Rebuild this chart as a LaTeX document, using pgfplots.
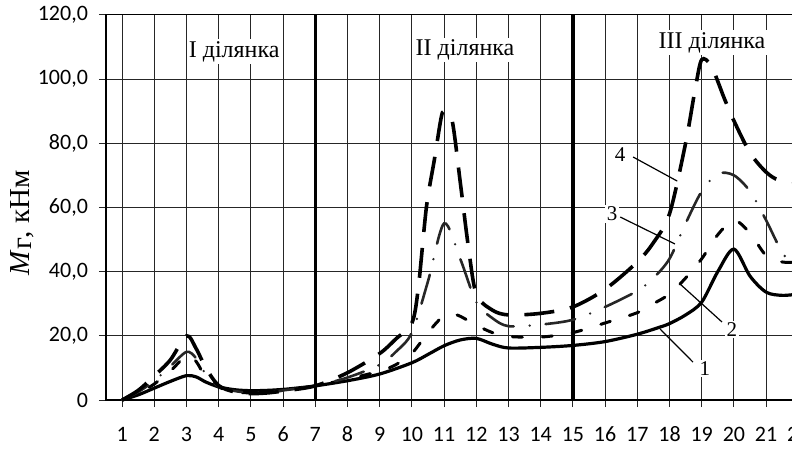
\documentclass[border=0pt]{standalone}
\usepackage{fontspec}
\setmainfont{Liberation Serif}
\newfontfamily\calibri{Carlito}
\usepackage{pgfplots}
\pgfplotsset{compat=1.18}
\begin{document}
\begin{tikzpicture}
\begin{axis}[
  at={(0,0)}, anchor=south west,
  x=16.1pt, y=1.605pt,
  xmin=0.5, xmax=22.5, ymin=0, ymax=120,
  xtick={1,2,...,22}, ytick={0,20,...,120},
  yticklabels={0,{20,0},{40,0},{60,0},{80,0},{100,0},{120,0}},
  grid=major, major grid style={black!85, line width=0.5pt},
  axis line style={black, line width=0.6pt},
  tick style={black!85, line width=0.5pt},
  tick align=outside, tick pos=left,
  major tick length=3.5pt,
  /pgf/number format/assume math mode=true,
  ticklabel style={font=\calibri\fontsize{11}{13}\selectfont},
  xticklabel style={yshift=-6pt, text height=7.5pt, text depth=0pt, anchor=north},
  yticklabel style={xshift=-2pt},
  ylabel={\textit{M}\raisebox{-0.15ex}{г}, кНм},
  ylabel style={at={(rel axis cs:-0.1186,0.46)}, anchor=center, font=\fontsize{14.5}{17}\selectfont},
  clip=false,
]
\coordinate (O) at (rel axis cs:0,0);
\draw[line width=1.6pt] (7,0) -- (7,120);
\draw[line width=1.6pt] (15,0) -- (15,120);

% curve 1 solid
\addplot[black, line width=1.6pt, smooth] coordinates {
(1,0) (1.5,1.6) (2,3.7) (2.5,5.8) (3,7.6) (3.3,7.2) (3.6,5.6) (4,4.1) (4.5,3.2) (5,2.9) (5.5,3.0) (6,3.3) (6.5,3.8) (7,4.4)
(8,6) (9,8.1) (10,11.6) (10.5,14.2) (11,16.9) (11.5,18.7) (12,19.2) (12.5,17.4) (13,16.2) (14,16.4) (15,17.0)
(16,18.2) (17,20.5) (17.7,22.7) (18,23.8) (18.5,26.5) (19,30.5) (19.5,40) (20,47) (20.5,38.6) (21,33.6) (21.5,32.6) (22,33)
};
% curve 2 short dash
\addplot[black, line width=1.5pt, smooth, line cap=round, dash pattern=on 5pt off 10pt] coordinates {
(1,0) (1.5,2) (2,5) (2.5,9) (3,13.8) (3.3,12) (3.6,7) (4,4) (4.5,2.6) (5,2.2) (5.5,2.4) (6,3.0) (7,4.4)
(8,6.5) (9,9) (9.5,11) (10,14.5) (10.5,21) (11,26.3) (11.4,26.5) (12,23.3) (12.5,21) (13,19.8) (14,19.6) (15,21)
(16,24) (17,27.2) (17.5,30) (18,33) (18.5,38) (19,44) (19.5,51.5) (20,56) (20.5,52) (21,45) (21.5,43) (22,43)
};
% curve 3 dash-dot
\addplot[black!85, line width=1.3pt, smooth, line cap=round, dash pattern=on 15pt off 8pt on 0pt off 8pt] coordinates {
(1,0) (1.5,2.5) (2,6) (2.5,10.5) (3,15) (3.3,13) (3.6,8) (4,4.2) (4.5,2.8) (5,2.3) (5.5,2.5) (6,3) (7,4.4)
(8,7) (9,11) (9.5,15) (10,21) (10.5,37) (11,55) (11.5,44) (12,30.5) (12.5,25.5) (13,23) (14,23.5) (15,25)
(16,29) (17,34) (17.5,38) (18,44) (18.5,55) (19,65) (19.5,70.5) (20,70) (20.5,65) (21,56) (21.5,46) (22,40)
};
% curve 4 long dash
\addplot[black, line width=1.8pt, smooth, dash pattern=on 15pt off 8pt] coordinates {
(1,0) (1.5,3) (2,7.5) (2.5,12.5) (3,20) (3.3,16) (3.6,10) (4,4.5) (4.5,2.5) (5,2) (5.5,2.2) (6,2.8) (7,4.4)
(8,8.5) (9,14.5) (9.5,19) (10,24) (10.2,35) (10.45,60) (10.7,75) (10.9,87.5) (11,90) (11.25,87) (11.5,68) (11.75,48) (12,33)
(12.5,28) (13,26.5) (14,27) (15,29) (16,34.5) (17,43) (17.5,49) (18,58) (18.5,80) (18.8,97) (19,106) (19.3,104) (19.7,94) (20,87)
(20.5,77) (21,71) (21.4,68.5) (22,68)
};

\node[fill=white, inner sep=1pt, font=\fontsize{12}{14}\selectfont] at (4.48,108.5) {I ділянка};
\node[fill=white, inner sep=1pt, font=\fontsize{12}{14}\selectfont] at (11.65,109) {II ділянка};
\node[fill=white, inner sep=1pt, font=\fontsize{12}{14}\selectfont] at (19.32,111.3) {III ділянка};

\draw[line width=0.6pt] (16.87,75.7) -- (18.24,68.2);
\draw[line width=0.6pt] (16.47,57) -- (18.17,48.6);
\draw[line width=0.6pt] (19.63,24.3) -- (18.33,36.1);
\draw[line width=0.6pt] (18.73,11.8) -- (17.71,22.1);
\node[fill=white, inner sep=0.8pt, font=\fontsize{10.5}{12}\selectfont] at (16.47,76.3) {4};
\node[fill=white, inner sep=0.8pt, font=\fontsize{10.5}{12}\selectfont] at (16.22,57.9) {3};
\node[fill=white, inner sep=0.8pt, font=\fontsize{10.5}{12}\selectfont] at (19.94,22.1) {2};
\node[fill=white, inner sep=0.8pt, font=\fontsize{10.5}{12}\selectfont] at (19.1,9.7) {1};
\end{axis}
\pgfresetboundingbox
\path[use as bounding box] ([shift={(-53pt,-25pt)}]O) rectangle ([shift={(343pt,200pt)}]O);
\end{tikzpicture}
\end{document}
